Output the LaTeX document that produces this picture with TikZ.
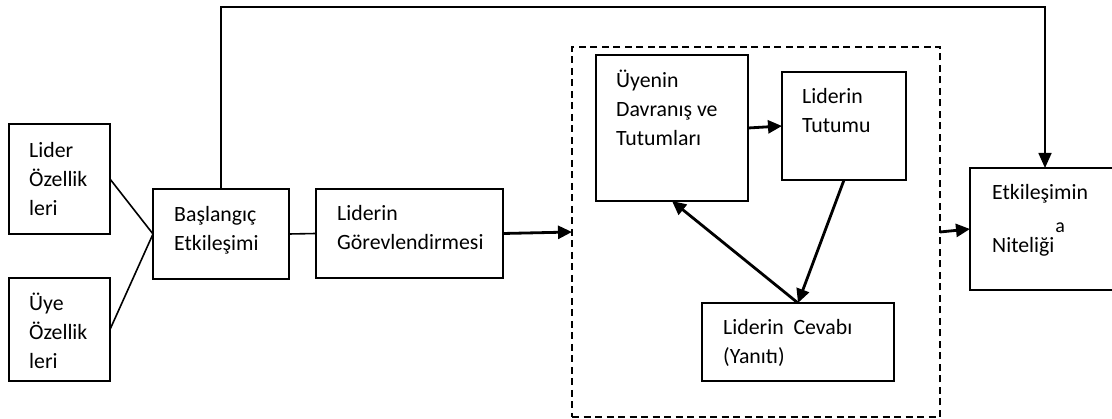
\documentclass[tikz,border=0pt]{standalone}
\usepackage{fontspec}
\setmainfont{Carlito}
\usetikzlibrary{arrows.meta}
\newcommand{\tx}{\fontsize{21.8}{29}\selectfont}
\newcommand{\supa}{\raisebox{20pt}{\fontsize{20}{20}\selectfont a}}
\begin{document}
\begin{tikzpicture}[x=1pt,y=-1pt,
  box/.style={draw, line width=1.6pt, rectangle, inner sep=0pt, outer sep=0pt, anchor=north west},
  grp/.style={draw, line width=1.7pt, dash pattern=on 7pt off 4.5pt, rectangle, inner sep=0pt, outer sep=0pt, anchor=north west},
  txt/.style={anchor=north west, inner sep=0pt, align=left, yshift=20.3pt, font=\tx},
  link/.style={line width=1.6pt},
  flow/.style={line width=2.8pt, -{Triangle[length=14pt,width=13pt]}},
  feed/.style={line width=1.6pt, -{Triangle[length=15pt,width=13pt]}}]
\useasboundingbox (0,0) rectangle (1112,419);

% boxes
\node[box, minimum width=101pt, minimum height=110pt] (lider) at (9,124) {};
\node[box, minimum width=101pt, minimum height=103pt] (uye) at (9,278) {};
\node[box, minimum width=136pt, minimum height=90pt] (basla) at (153,189) {};
\node[box, minimum width=187pt, minimum height=89pt] (gorev) at (316,189) {};
\node[grp, minimum width=368pt, minimum height=370pt] (grup) at (572,47) {};
\node[box, minimum width=152pt, minimum height=146pt] (davr) at (596,55) {};
\node[box, minimum width=124pt, minimum height=108pt] (tutum) at (782,72) {};
\node[box, minimum width=192pt, minimum height=78pt] (cevap) at (702,303) {};
\node[box, minimum width=150pt, minimum height=122pt] (nitelik) at (970,168) {};

% texts (placed at the baseline of their first line)
\node[txt] (t-lider) at (29,157) {\strut Lider\\\strut Özellik\\\strut leri};
\node[txt] (t-uye) at (29,310) {\strut Üye\\\strut Özellik\\\strut leri};
\node[txt] (t-basla) at (174,221) {\strut Başlangıç\\\strut Etkileşimi};
\node[txt] (t-gorev) at (337,220) {\strut Liderin\\\strut Görevlendirmesi};
\node[txt] (t-davr) at (616,87) {\strut Üyenin\\\strut Davranış ve\\\strut Tutumları};
\node[txt] (t-tutum) at (802,103) {\strut Liderin\\\strut Tutumu};
\node[txt] (t-cevap) at (723,334) {\strut Liderin\ \ Cevabı\\\strut (Yanıtı)};
\node[txt] (t-nitelik) at (992,199) {\strut Etkileşimin\\[14pt]\strut Niteliği\kern1pt\supa};

% connectors
\coordinate (ust) at (0,7);
\draw[link] (lider.east) -- (basla.west);
\draw[link] (uye.east) -- (basla.west);
\draw[link] (basla.east) -- (gorev.west);
\draw[feed] (basla.north) -- (basla.north |- ust) -- (nitelik.north |- ust) -- (nitelik.north);
\draw[flow] (gorev.east) -- (grup.west);
\draw[flow] (davr.east) -- (tutum.west);
\draw[flow] (tutum.south) -- (cevap.north);
\draw[flow] (cevap.north) -- (davr.south);
\draw[flow] (grup.east) -- (nitelik.west);
\end{tikzpicture}
\end{document}
